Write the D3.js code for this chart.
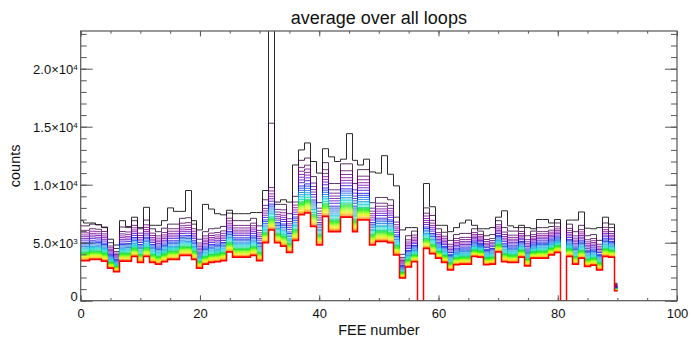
<!DOCTYPE html>
<html><head><meta charset="utf-8">
<script src="https://cdn.jsdelivr.net/npm/d3@7"></script>
<style>body{margin:0;background:#fff}text{font-family:"Liberation Sans",Arial,Helvetica,sans-serif;fill:#111}</style>
</head><body><svg id="c" width="693" height="338"></svg>
<script>
// ---- data ----
const fee = [0,1,2,3,4,5,6,7,8,9,10,11,12,13,14,15,16,17,18,19,20,21,22,23,24,25,26,27,28,29,30,
31,32,33,34,35,36,37,38,39,40,41,42,43,44,45,46,47,48,49,50,51,52,53,54,55,56,57,58,59,60,
61,62,63,64,65,66,67,68,69,70,71,72,73,74,75,76,77,78,79,80,81,82,83,84,85,86,87,88,89,90];
// first loop (black, top)
const firstLoop = [6900,6700,6700,6550,6300,5300,4800,6900,6400,7200,6300,8050,6500,6500,6900,8000,7700,7700,9500,6900,
6100,8300,7900,7500,7400,7800,7500,7500,7500,7600,7600,9500,27000,8500,8700,8500,11700,13000,13600,12000,
11000,13100,12400,12000,12200,14400,12100,11700,12200,11100,11000,12500,10900,9900,6100,6300,6300,0,10100,8100,
6500,6500,5950,6300,6700,6950,6500,6200,6200,6300,7200,7750,6450,6300,6500,6300,6200,7000,7000,6700,
7000,0,6950,6950,7650,6250,6200,6300,7200,6600,1500];
// second loop (dark)
const secondLoop = [6450,6450,6600,6550,6350,5000,4500,6350,6300,6900,6200,6950,6200,5950,6250,6600,6600,7100,7150,6600,
5300,5950,6200,6250,6400,7550,6900,6900,6900,7100,6450,8700,10300,8300,8300,7500,9000,12100,12300,10700,
8450,11900,10100,10100,11800,11800,10100,11300,11300,8450,8900,8900,8700,7200,4000,5600,6000,0,8000,7350,
6200,5900,5200,5700,5800,5800,6200,6000,5600,5700,6900,6300,6000,6000,6300,5600,6000,6300,6300,6400,
6700,0,6600,5950,6500,5600,5700,5200,6700,6300,1400];
const secondPeaks = [[32,15300]];
// last loop (red, bottom)
const lastLoop = [3450,3450,3550,3550,3400,2800,2500,3400,3400,3800,3300,3800,3300,3150,3350,3550,3550,3900,3900,3550,
2800,3150,3300,3350,3450,4200,3750,3750,3750,3900,3450,5000,6100,5000,4700,4150,5200,7400,7550,6400,
4800,7250,5950,5950,7200,7200,5950,6950,6950,4800,5100,5100,5000,3950,1950,2900,3350,0,4500,4050,
3650,3300,2650,3100,3150,3150,3800,3750,3100,3150,4200,3350,3300,3300,3750,3000,3650,3650,3650,3950,
4150,0,3800,3150,3650,2950,3050,2650,3800,3750,850];
// relative position of loops 3..29 between the second and the last loop
const loopWeights = [0.87,0.80,0.74,0.69,0.64,0.59,0.53,0.49,0.45,0.41,0.37,0.34,0.31,0.28,0.25,0.23,0.21,0.19,0.17,0.15,0.13,0.11,0.09,0.065,0.045,0.025,0.012];
const xTicks = [0,20,40,60,80,100];
const yTicks = [0,5000,10000,15000,20000];
const yTickMant = ["0","5.0\u00d710","1.0\u00d710","1.5\u00d710","2.0\u00d710"];
const yTickExp = ["","3","4","4","4"];

// ---- build series ----
const nLoops = loopWeights.length + 3;
const series = [];
series.push(firstLoop);
const sec = secondLoop.slice();
secondPeaks.forEach(([f,v]) => { sec[fee.indexOf(f)] = v; });
series.push(sec);
loopWeights.forEach(w => series.push(lastLoop.map((b,i) => b + (secondLoop[i]-b)*w)));
series.push(lastLoop);

// IDL colour table 39 (rainbow + white), approximate anchors
const ct = [[0,0,0,0],[20,95,0,110],[40,125,0,160],[56,80,0,190],[72,0,0,221],[90,0,90,221],[110,0,170,221],
[125,0,215,200],[140,0,210,120],[160,0,230,0],[185,130,255,0],[205,230,245,0],[220,255,200,0],[235,255,120,0],[250,255,0,0],[255,255,0,0]];
function ct39(idx){
  for(let j=0;j<ct.length-1;j++){
    const a=ct[j],b=ct[j+1];
    if(idx>=a[0]&&idx<=b[0]){const t=(idx-a[0])/(b[0]-a[0]);
      return `rgb(${Math.round(a[1]+(b[1]-a[1])*t)},${Math.round(a[2]+(b[2]-a[2])*t)},${Math.round(a[3]+(b[3]-a[3])*t)})`;}
  }
  return "rgb(255,0,0)";
}

// ---- layout ----
const X0=80.7, X1=677, Y0=31, Y1=300.7;
const svg = d3.select("#c");
const x = d3.scaleLinear([0,100],[X0,X1]);
const y = d3.scaleLinear([0,23250],[Y1,Y0]);
const snap = v => Math.round(v - 0.5) + 0.5;

svg.append("clipPath").attr("id","pc").append("rect").attr("x",X0).attr("y",Y0).attr("width",X1-X0).attr("height",Y1-Y0);
// histogram-style steps (bins centred on each FEE number)
function stepPoints(s){
  const pts = s.map((v,i) => [i===0 ? x(fee[0]) : x(fee[i]-0.5), v]);
  pts.push([x(fee[fee.length-1]), s[s.length-1]]);
  return pts;
}
const line = d3.line().x(d=>snap(d[0])).y(d=>y(d[1])).curve(d3.curveStepAfter);
const g = svg.append("g").attr("clip-path","url(#pc)");
series.forEach((s,k)=>{
  const last = k===nLoops-1;
  const col = k===0 ? "#2a2a2a" : ct39(Math.round(k*254/(nLoops-1)));
  g.append("path").attr("d",line(stepPoints(s))).attr("fill","none").attr("stroke",col)
   .attr("stroke-width", last ? 1.5 : 1).attr("stroke-opacity", (k===0||last)?1:0.8);
});

// ---- axes ----
const axCol="#555";
function styleAxis(sel){sel.select(".domain").remove();sel.selectAll("line").attr("stroke",axCol).attr("stroke-width",1);}
const xMinor = d3.range(0,101,5), yMinor = d3.range(0,23001,1000);
svg.append("g").attr("transform",`translate(0,${Y1})`).call(d3.axisBottom(x).tickValues(xMinor).tickSize(-2.7).tickFormat("")).call(styleAxis);
svg.append("g").attr("transform",`translate(0,${Y0})`).call(d3.axisTop(x).tickValues(xMinor).tickSize(-2.7).tickFormat("")).call(styleAxis);
const xb = svg.append("g").attr("transform",`translate(0,${Y1})`).call(d3.axisBottom(x).tickValues(xTicks).tickSize(-5.4).tickPadding(8).tickFormat(d=>d)).call(styleAxis);
xb.selectAll("text").attr("font-size",13).style("fill","#111");
svg.append("g").attr("transform",`translate(0,${Y0})`).call(d3.axisTop(x).tickValues(xTicks).tickSize(-5.4).tickFormat("")).call(styleAxis);
svg.append("g").attr("transform",`translate(${X0},0)`).call(d3.axisLeft(y).tickValues(yMinor).tickSize(-6).tickFormat("")).call(styleAxis);
svg.append("g").attr("transform",`translate(${X1},0)`).call(d3.axisRight(y).tickValues(yMinor).tickSize(-6).tickFormat("")).call(styleAxis);
svg.append("g").attr("transform",`translate(${X1},0)`).call(d3.axisRight(y).tickValues(yTicks).tickSize(-12).tickFormat("")).call(styleAxis);
const yl = svg.append("g").attr("transform",`translate(${X0},0)`).call(d3.axisLeft(y).tickValues(yTicks).tickSize(-12).tickPadding(3).tickFormat("")).call(styleAxis);
yl.selectAll(".tick").each(function(d,i){
  const t = d3.select(this).select("text").attr("font-size",13).attr("dy", i===0 ? "-0.05em" : "0.35em").style("fill","#111");
  t.text(null);
  t.append("tspan").text(yTickMant[i]);
  if(yTickExp[i]) t.append("tspan").attr("dy","-0.5em").attr("font-size","0.62em").text(yTickExp[i]);
});
svg.append("rect").attr("x",X0).attr("y",Y0).attr("width",X1-X0).attr("height",Y1-Y0).attr("fill","none").attr("stroke",axCol).attr("stroke-width",1.2);

// ---- titles ----
svg.append("text").attr("x",(X0+X1)/2).attr("y",24).attr("text-anchor","middle").attr("font-size",18).text("average over all loops");
svg.append("text").attr("x",(X0+X1)/2).attr("y",335).attr("text-anchor","middle").attr("font-size",14.5).text("FEE number");
svg.append("text").attr("transform",`translate(19.5,${(Y0+Y1)/2}) rotate(-90)`).attr("text-anchor","middle").attr("font-size",14.5).text("counts");
</script></body></html>
